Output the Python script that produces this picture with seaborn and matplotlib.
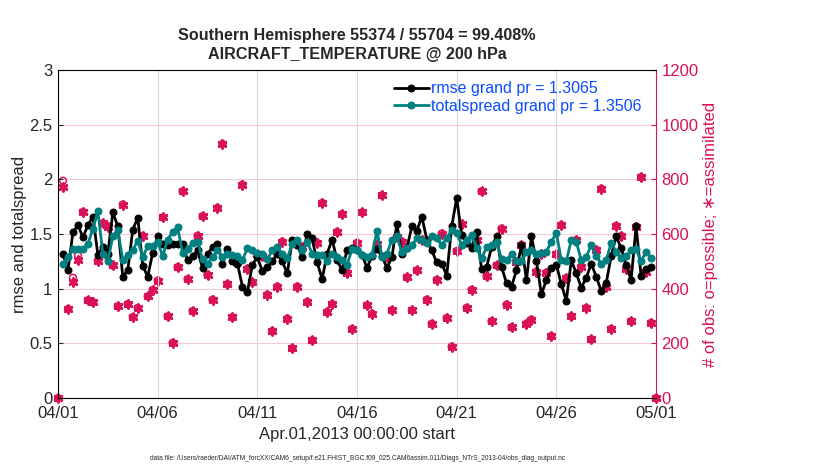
import numpy as np
import pandas as pd
import seaborn as sns
import matplotlib.pyplot as plt
import matplotlib.dates as mdates

# 6-hourly bins 04/01 00Z .. 05/01 00Z, first and last bin are empty
times = pd.date_range("2013-04-01 00:00", "2013-05-01 00:00", freq="6h")

rmse = [1.32, 1.17, 1.52, 1.58, 1.47, 1.58, 1.66, 1.31, 1.38, 1.32,
        1.70, 1.57, 1.11, 1.17, 1.54, 1.65, 1.21, 1.11, 1.33, 1.48,
        1.41, 1.40, 1.41, 1.41, 1.41, 1.26, 1.30, 1.35, 1.19, 1.32,
        1.38, 1.41, 1.23, 1.36, 1.25, 1.23, 1.02, 0.97, 1.22, 1.29,
        1.16, 1.20, 1.25, 1.32, 1.25, 1.14, 1.45, 1.40, 1.29, 1.50,
        1.46, 1.24, 1.09, 1.32, 1.45, 1.26, 1.17, 1.35, 1.37, 1.35,
        1.31, 1.19, 1.30, 1.36, 1.30, 1.19, 1.29, 1.59, 1.32, 1.37,
        1.57, 1.53, 1.66, 1.45, 1.35, 1.24, 1.23, 1.12, 1.57, 1.83,
        1.49, 1.42, 1.37, 1.52, 1.18, 1.20, 1.38, 1.48, 1.20, 1.05,
        1.02, 1.17, 1.40, 1.08, 1.48, 1.25, 0.95, 1.08, 1.19, 1.22,
        1.04, 0.89, 1.26, 1.14, 1.01, 1.10, 1.23, 1.11, 0.98, 1.05,
        1.30, 1.48, 1.37, 1.22, 1.08, 1.57, 1.12, 1.18, 1.20]

spread = [1.23, 1.29, 1.36, 1.36, 1.36, 1.41, 1.55, 1.71, 1.32, 1.25,
          1.48, 1.54, 1.26, 1.31, 1.35, 1.44, 1.29, 1.39, 1.39, 1.43,
          1.30, 1.45, 1.52, 1.56, 1.33, 1.36, 1.42, 1.43, 1.27, 1.23,
          1.29, 1.35, 1.29, 1.32, 1.31, 1.30, 1.26, 1.37, 1.35, 1.33,
          1.32, 1.27, 1.35, 1.38, 1.32, 1.28, 1.41, 1.45, 1.35, 1.43,
          1.32, 1.31, 1.31, 1.25, 1.32, 1.29, 1.26, 1.22, 1.36, 1.35,
          1.31, 1.29, 1.31, 1.53, 1.29, 1.32, 1.45, 1.48, 1.34, 1.37,
          1.40, 1.46, 1.45, 1.42, 1.48, 1.46, 1.40, 1.46, 1.54, 1.51,
          1.40, 1.45, 1.49, 1.37, 1.28, 1.38, 1.40, 1.43, 1.27, 1.26,
          1.32, 1.25, 1.25, 1.34, 1.35, 1.32, 1.33, 1.34, 1.43, 1.51,
          1.26, 1.25, 1.45, 1.43, 1.26, 1.29, 1.40, 1.30, 1.23, 1.26,
          1.42, 1.34, 1.28, 1.30, 1.35, 1.36, 1.25, 1.34, 1.28]

nused = [0, 772, 326, 423, 505, 681, 358, 350, 502, 639, 627,
         485, 336, 708, 344, 296, 330, 593, 372, 396, 430,
         661, 299, 202, 479, 756, 435, 318, 594, 665, 451,
         360, 696, 930, 417, 296, 499, 781, 473, 423, 526,
         518, 378, 245, 408, 572, 291, 182, 408, 554, 352,
         211, 568, 714, 315, 344, 608, 673, 459, 253, 568,
         679, 339, 309, 562, 742, 515, 321, 590, 572, 442,
         321, 467, 578, 360, 272, 433, 602, 293, 188, 538,
         636, 330, 396, 578, 756, 445, 281, 485, 620, 342,
         259, 496, 560, 272, 287, 463, 527, 459, 227, 526,
         633, 439, 299, 578, 481, 330, 215, 542, 766, 408,
         253, 630, 593, 473, 281, 627, 808, 461, 275, 0]

# bins where more obs were possible than assimilated
poss_extra = {1: 795, 3: 440, 4: 522}

rmse_label = "rmse grand pr = 1.3065"
spread_label = "totalspread grand pr = 1.3506"
title = "Southern Hemisphere 55374 / 55704 = 99.408%\nAIRCRAFT_TEMPERATURE @ 200 hPa"
datafile = ("data file: /Users/raeder/DAI/ATM_forcXX/CAM6_setup/f.e21.FHIST_BGC.f09_025."
            "CAM6assim.011/Diags_NTrS_2013-04/obs_diag_output.nc")

pink = "#d81159"
teal = "#008080"
blue = "#0a4dff"

sns.set_style("white")
plt.rcParams["font.family"] = ["Liberation Sans", "DejaVu Sans"]

nposs = list(nused)
for i, v in poss_extra.items():
    nposs[i] = v

lines = pd.DataFrame({"time": times[1:-1], "rmse": rmse, "spread": spread})
counts = pd.DataFrame({"time": times, "used": nused, "poss": nposs})

fig = plt.figure(figsize=(8.3, 4.7), dpi=100)
ax = fig.add_axes([0.0699, 0.153, 0.7205, 0.698])

sns.lineplot(data=lines, x="time", y="rmse", ax=ax, color="black", lw=2,
             marker="o", markersize=5, markeredgecolor="black", label=rmse_label)
sns.lineplot(data=lines, x="time", y="spread", ax=ax, color=teal, lw=2,
             marker="o", markersize=5, markeredgecolor=teal, label=spread_label)

ax.set_xlim(times[0], times[-1])
ax.set_ylim(0, 3)
ax.set_yticks(np.arange(0, 3.01, 0.5))
ax.set_yticklabels(["0", "0.5", "1", "1.5", "2", "2.5", "3"])
ax.xaxis.set_major_locator(mdates.DayLocator(bymonthday=[1, 6, 11, 16, 21, 26]))
ax.xaxis.set_minor_locator(mdates.DayLocator())
ax.xaxis.set_major_formatter(mdates.DateFormatter("%m/%d"))
ax.tick_params(axis="both", which="both", direction="in", labelsize=12, pad=4)
ax.tick_params(axis="x", which="major", pad=6)
ax.tick_params(axis="x", which="minor", length=2)
ax.tick_params(axis="y", right=False)
ax.grid(axis="x", which="major", color="#d9d9d9", lw=0.8)
ax.set_xlabel("Apr.01,2013 00:00:00 start", fontsize=12, labelpad=4)
ax.set_ylabel("rmse and totalspread", fontsize=12, labelpad=2)
ax.set_title(title, fontsize=11.6, fontweight="bold", pad=8, linespacing=1.3)
for s in ["left", "top", "bottom"]:
    ax.spines[s].set_color("black")
ax.spines["right"].set_visible(False)

leg = ax.legend(loc="upper left", bbox_to_anchor=(0.543, 1.0), frameon=False,
                fontsize=11.5, handlelength=2.2, handletextpad=0.1,
                labelspacing=0.15, borderaxespad=0.3)
for t in leg.get_texts():
    t.set_color(blue)

ax2 = ax.twinx()
sns.scatterplot(data=counts, x="time", y="poss", ax=ax2, marker="o", s=24,
                facecolor="none", edgecolor=pink, linewidth=1.1, clip_on=False, zorder=3)
sns.scatterplot(data=counts, x="time", y="used", ax=ax2, marker=(6, 2, 0), s=30,
                color=pink, linewidth=2.0, clip_on=False, zorder=4)
ax2.set_ylim(0, 1200)
ax2.set_yticks(np.arange(0, 1201, 200))
ax2.tick_params(axis="y", direction="in", colors=pink, labelsize=12, pad=4)
ax2.grid(axis="y", color="#f6c9d8", lw=0.8)
ax2.set_ylabel("# of obs: o=possible; \u2217=assimilated", color=pink,
               fontsize=12, labelpad=3)
ax2.spines["right"].set_color(pink)
for s in ["left", "top", "bottom"]:
    ax2.spines[s].set_visible(False)
ax2.set_xlim(times[0], times[-1])
ax.set_zorder(ax2.get_zorder() + 1)
ax.patch.set_visible(False)

fig.text(0.431, 0.025, datafile, fontsize=4.8, ha="center", va="center")

fig.savefig("out.png", dpi=100)
